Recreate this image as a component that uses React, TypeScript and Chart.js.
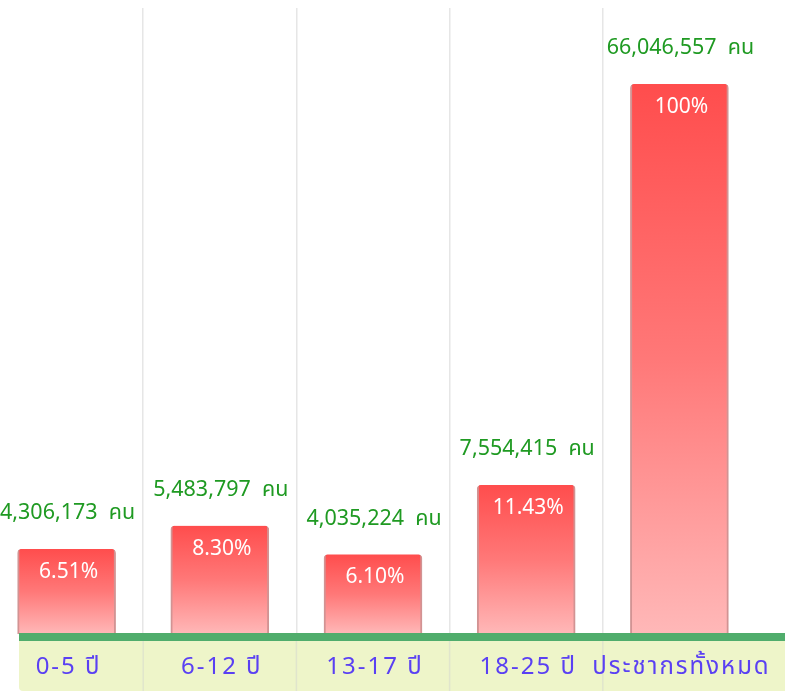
import React, { useEffect, useRef } from "react";
import { Chart, registerables, LinearScale } from "chart.js";

Chart.register(...registerables);

// ---- data ----
const categories = ["0-5 ปี", "6-12 ปี", "13-17 ปี", "18-25 ปี", "ประชากรทั้งหมด"];
const percentValues = [6.51, 8.3, 6.1, 11.43, 100];
const percentLabels = ["6.51%", "8.30%", "6.10%", "11.43%", "100%"];
const peopleCounts = [4306173, 5483797, 4035224, 7554415, 66046557];
const peopleUnit = "คน";

// broken (compressed above a break) value axis, like the infographic
class BrokenScale extends (LinearScale as any) {
  static id = "broken";
  static defaults = (LinearScale as any).defaults;
  getPixelForValue(value: number) {
    if (value === null || value === undefined) return NaN;
    const brk = (this as any).options.breakValue ?? 12;
    const frac = (this as any).options.breakFraction ?? 0.25;
    const min = (this as any).min;
    const max = (this as any).max;
    let d: number;
    if (value <= brk) d = ((value - min) / (brk - min)) * frac;
    else d = frac + ((value - brk) / (max - brk)) * (1 - frac);
    return (this as any).getPixelForDecimal(d);
  }
  getValueForPixel(pixel: number) {
    const brk = (this as any).options.breakValue ?? 12;
    const frac = (this as any).options.breakFraction ?? 0.25;
    const min = (this as any).min;
    const max = (this as any).max;
    const d = (this as any).getDecimalForPixel(pixel);
    if (d <= frac) return min + (d / frac) * (brk - min);
    return brk + ((d - frac) / (1 - frac)) * (max - brk);
  }
}
Chart.register(BrokenScale as any);

const FONT = "'Noto Sans', 'Noto Sans Thai', Loma, Garuda, sans-serif";
const SHIFT = 10; // canvas shifted left
const CANVAS_W = 785 + SHIFT;
const CANVAS_H = 691;
const RIGHT_PAD = CANVAS_W - 766;

const decorPlugin = {
  id: "decor",
  beforeDraw(chart: any) {
    const { ctx, chartArea } = chart;
    ctx.save();
    // bottom label band
    ctx.fillStyle = "#eef5c9";
    ctx.beginPath();
    const bx = 19 + SHIFT;
    const by = chartArea.bottom + 7;
    ctx.moveTo(bx, by);
    ctx.lineTo(CANVAS_W, by);
    ctx.lineTo(CANVAS_W, CANVAS_H);
    ctx.lineTo(bx + 4, CANVAS_H);
    ctx.quadraticCurveTo(bx, CANVAS_H, bx, CANVAS_H - 4);
    ctx.closePath();
    ctx.fill();
    ctx.restore();
  },
  afterDatasetsDraw(chart: any) {
    const { ctx, chartArea, scales } = chart;
    const xs = scales.x;
    ctx.save();
    // grid extension in the band
    ctx.strokeStyle = "#e0e5cc";
    ctx.lineWidth = 1.5;
    for (let i = 0; i < categories.length - 1; i++) {
      const px = (xs.getPixelForValue(i) + xs.getPixelForValue(i + 1)) / 2;
      ctx.beginPath();
      ctx.moveTo(px, chartArea.bottom + 7);
      ctx.lineTo(px, CANVAS_H);
      ctx.stroke();
    }
    // green baseline
    ctx.fillStyle = "#50ad6c";
    ctx.fillRect(19 + SHIFT, chartArea.bottom - 1, CANVAS_W - 19 - SHIFT, 8);

    const meta = chart.getDatasetMeta(0);
    meta.data.forEach((bar: any, i: number) => {
      ctx.textAlign = "center";
      ctx.textBaseline = "middle";
      // percent inside bar
      ctx.fillStyle = "#ffffff";
      ctx.font = `21px ${FONT}`;
      ctx.fillText(percentLabels[i], bar.x + 2, bar.y + 23);
      // people count above bar
      ctx.fillStyle = "#1f9a22";
      ctx.font = `21.5px ${FONT}`;
      ctx.fillText(
        peopleCounts[i].toLocaleString("en-US") + "  " + peopleUnit,
        bar.x + 1,
        bar.y - 36
      );
      // category labels
      ctx.fillStyle = "#5a40f3";
      ctx.font = `24px ${FONT}`;
      (ctx as any).letterSpacing = "2px";
      ctx.fillText(categories[i], xs.getPixelForValue(i) + 2, chartArea.bottom + 33);
      (ctx as any).letterSpacing = "0px";
    });
    ctx.restore();
  },
};

export default function App() {
  const ref = useRef<HTMLCanvasElement | null>(null);
  useEffect(() => {
    if (!ref.current) return;
    const chart = new Chart(ref.current, {
      type: "bar",
      data: {
        labels: categories,
        datasets: [
          {
            data: percentValues,
            backgroundColor: (c: any) => {
              const chartObj = c.chart;
              const ys = chartObj.scales.y;
              if (!ys || c.parsed == null || !chartObj.chartArea) return "#ff6060";
              const top = ys.getPixelForValue(c.parsed.y);
              const base = ys.getPixelForValue(0);
              const g = chartObj.ctx.createLinearGradient(0, top, 0, base);
              g.addColorStop(0, "#ff4d4d");
              g.addColorStop(0.5, "#ff7878");
              g.addColorStop(1, "#ffb8b8");
              return g;
            },
            borderColor: "rgba(180,75,75,0.6)",
            borderWidth: { left: 2, right: 2, top: 0, bottom: 0 },
            borderSkipped: false,
            borderRadius: { topLeft: 4, topRight: 4, bottomLeft: 0, bottomRight: 0 },
            barThickness: 98,
          },
        ],
      },
      options: {
        animation: false,
        responsive: false,
        maintainAspectRatio: false,
        layout: { padding: { left: 0, right: RIGHT_PAD, top: 8, bottom: 57 } },
        plugins: { legend: { display: false }, tooltip: { enabled: false } },
        scales: {
          x: {
            type: "category",
            offset: true,
            border: { display: false },
            ticks: { display: false },
            grid: {
              offset: true,
              drawTicks: false,
              lineWidth: 1.5,
              color: (c: any) =>
                typeof c.index !== "number" || c.index === 0 || c.index >= categories.length
                  ? "rgba(0,0,0,0)"
                  : "#e6e6e6",
            },
          },
          y: {
            type: "broken" as any,
            min: 0,
            max: 117,
            breakValue: 12,
            breakFraction: 0.25,
            display: false,
            grid: { display: false },
          } as any,
        },
      },
      plugins: [decorPlugin],
    });
    return () => chart.destroy();
  }, []);
  return (
    <div style={{ position: "fixed", left: -SHIFT, top: 0, width: CANVAS_W, height: CANVAS_H, background: "#fff" }}>
      <canvas ref={ref} width={CANVAS_W} height={CANVAS_H} style={{ display: "block" }} />
    </div>
  );
}
